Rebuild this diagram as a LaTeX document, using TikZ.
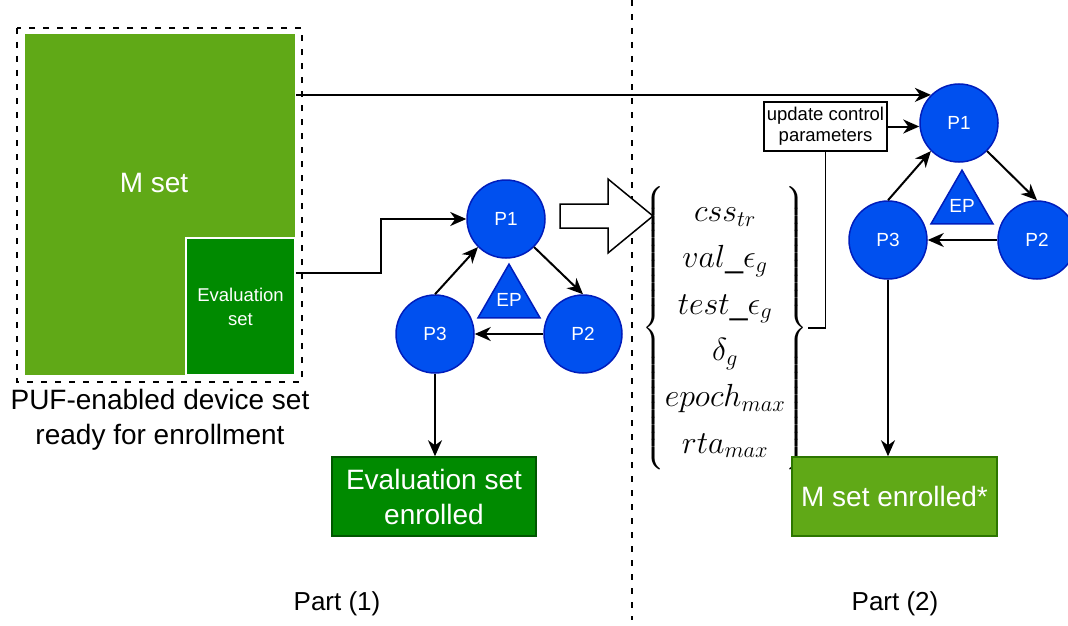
\RequirePackage{fix-cm}
\documentclass[tikz,border=0pt]{standalone}
\usepackage{amsmath}
\usepackage{fontspec}
\setmainfont{Liberation Sans}
\usepackage{tikz}
\usetikzlibrary{
    arrows.meta,
    shapes.geometric,
    positioning
}
\definecolor{msetgreen}{HTML}{60A917}
\definecolor{msetedge}{HTML}{2D7600}
\definecolor{evalgreen}{HTML}{008A00}
\definecolor{evaledge}{HTML}{005700}
\definecolor{procblue}{HTML}{0050EF}
\definecolor{procedge}{HTML}{001DBC}

\begin{document}
\begin{tikzpicture}[x=1pt, y=-1pt, line width=1.5pt,
        proc/.style={circle, fill=procblue, draw=procedge, minimum size=78pt, inner sep=0pt, text=white, font=\fontsize{19}{22}\selectfont},
        ep/.style={regular polygon, regular polygon sides=3, fill=procblue, draw=procedge, minimum size=67pt, inner sep=0pt, text=white, font=\fontsize{19}{22}\selectfont},
        setbox/.style={rectangle, inner sep=0pt, align=center, text=white},
        arr/.style={line width=2pt, -{Stealth[length=16pt,width=14pt,inset=5pt]}},
        dashline/.style={dash pattern=on 6pt off 8pt}]
    \useasboundingbox (0,0) rectangle (1068,626);
    % part (1)
    \draw[dashline] (17,28) rectangle (302,382);
    \node[setbox, fill=msetgreen, minimum width=270pt, minimum height=341pt] (Mset) at (160,204.5) {};
    \node[text=white, font=\fontsize{28}{34}\selectfont] (Mlabel) at (154,183) {M set};
    \node[setbox, fill=evalgreen, draw=white, minimum width=109pt, minimum height=137pt, font=\fontsize{18.5}{24}\selectfont] (Eval) at (240.5,306.5) {Evaluation\\set};
    \node[align=center, font=\fontsize{28}{35}\selectfont] (PUF) at (160,420) {PUF-enabled device set\\ready for enrollment};
    \node[proc] (P1a) at (506,219) {P1};
    \node[proc] (P2a) at (583,334) {P2};
    \node[proc] (P3a) at (435,334) {P3};
    \node[ep] (EPa) at (509,300) {EP};
    \node[setbox, fill=evalgreen, draw=evaledge, minimum width=204pt, minimum height=79pt, font=\fontsize{28}{35}\selectfont] (EvalEnr) at (434,496.5) {Evaluation set\\enrolled};
    \draw[arr] ([yshift=34pt]Eval.east) -- ++(85,0) |- (P1a.west);
    \draw[arr] (P1a.-45) -- (P2a.north);
    \draw[arr] (P2a.west) -- (P3a.east);
    \draw[arr] (P3a.north) -- (P1a.-135);
    \draw[arr] (P3a.south) -- (P3a.south |- EvalEnr.north);
    \node[font=\fontsize{26}{30}\selectfont] (part1) at (337,604) {Part (1)};
    % divider and transfer
    \draw[dashline] (632,0) -- (632,620);
    \draw[fill=white] (560,204) -- (608,204) -- (608,179) -- (653,216) -- (608,253) -- (608,228) -- (560,228) -- cycle;
    \node[inner sep=0pt, font=\fontsize{32}{38}\selectfont] (params) at (725,328)
        {$\left\{\renewcommand\arraystretch{1.22}\begin{matrix}
            css_{tr}\\ val\_\epsilon_g\\ test\_\epsilon_g\\ \delta_g\\ epoch_{max}\\ rta_{max}
        \end{matrix}\right\}$};
    % part (2)
    \node[proc] (P1b) at (959,123) {P1};
    \node[proc] (P2b) at (1037,240) {P2};
    \node[proc] (P3b) at (888,240) {P3};
    \node[ep] (EPb) at (962,206) {EP};
    \node[draw, fill=white, align=center, inner sep=1pt, minimum width=123pt, minimum height=49pt, font=\fontsize{18.5}{21}\selectfont] (upd) at (825.5,126.5) {update control\\parameters};
    \node[setbox, fill=msetgreen, draw=msetedge, minimum width=205pt, minimum height=79pt, font=\fontsize{28}{35}\selectfont] (MsetEnr) at (894.5,496.5) {M set enrolled*};
    \draw[arr] (Mset.east |- P1b.135) -- (P1b.135);
    \draw[arr] (upd.east) -- (upd.east -| P1b.west);
    \draw (params.east) -| (upd.south);
    \draw[arr] (P1b.-45) -- (P2b.north);
    \draw[arr] (P2b.west) -- (P3b.east);
    \draw[arr] (P3b.north) -- (P1b.-135);
    \draw[arr] (P3b.south) -- (P3b.south |- MsetEnr.north);
    \node[font=\fontsize{26}{30}\selectfont] (part2) at (895,604) {Part (2)};
\end{tikzpicture}
\end{document}
